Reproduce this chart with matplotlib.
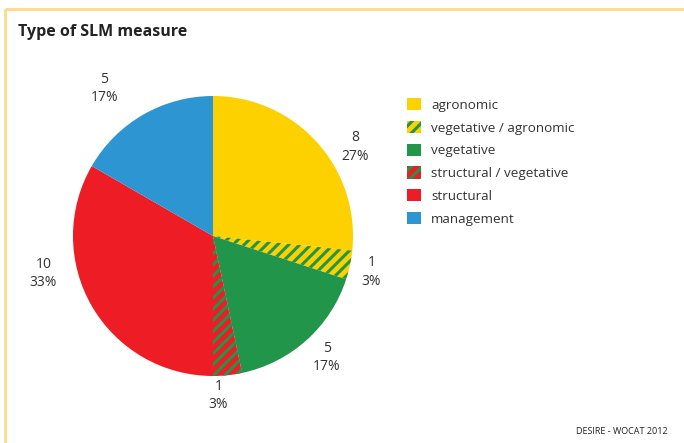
import matplotlib.pyplot as plt
import numpy as np

plt.rcParams['font.family'] = ['Open Sans', 'DejaVu Sans']
plt.rcParams['hatch.linewidth'] = 2.2

categories = ['agronomic', 'vegetative / agronomic', 'vegetative',
              'structural / vegetative', 'structural', 'management']
counts = [8, 1, 5, 1, 10, 5]
percents = [27, 3, 17, 3, 33, 17]

yellow = '#FDD000'
green = '#21954A'
red = '#EE1C25'
blue = '#2E95D3'
face = [yellow, yellow, green, red, red, blue]
hatch_col = [None, green, None, green, None, None]

# where each value label sits: angle (deg) and distance in pie radii
label_ang = [32, -12.8, -47, -88, -167.6, 126.4]
label_dist = [1.20, 1.16, 1.19, 1.14, 1.24, 1.31]

fig = plt.figure(figsize=(6.84, 4.43), dpi=100)
ax = fig.add_axes([0, 0, 1, 1])

cx, cy, r = 213, 443 - 236, 140
wedges, _ = ax.pie(counts, center=(cx, cy), radius=r, startangle=90,
                   counterclock=False, colors=face, frame=True,
                   wedgeprops=dict(linewidth=0))
ax.set_xlim(0, 684)
ax.set_ylim(0, 443)
ax.axis('off')
for w, hc in zip(wedges, hatch_col):
    if hc is not None:
        w.set_hatch('///')
        w.set_edgecolor(hc)
        w.set_linewidth(0)

for n, p, a, d in zip(counts, percents, label_ang, label_dist):
    x = cx + d * r * np.cos(np.radians(a))
    y = cy + d * r * np.sin(np.radians(a))
    ax.text(x, y, f'{n}\n{p}%', ha='center', va='center', fontsize=10,
            color='#333333', linespacing=1.3)

fig.legend(wedges, categories, loc='upper left', bbox_to_anchor=(0.578, 0.806),
           frameon=False, fontsize=9.7, handlelength=1.0, handleheight=1.0,
           handletextpad=0.75, labelspacing=0.68, labelcolor='#333333')

# light yellow frame on top and left
ax.plot([5, 684], [434, 434], color='#FDD98A', lw=2.0, solid_capstyle='butt')
ax.plot([5, 5], [434, 0], color='#FDD98A', lw=2.0, solid_capstyle='butt')

fig.text(18 / 684, 1 - 32 / 443, 'Type of SLM measure', fontsize=11.5,
         fontweight='bold', color='#222222', va='center', ha='left')
fig.text(668 / 684, 1 - 432 / 443, 'DESIRE - WOCAT 2012', fontsize=6.5,
         color='#222222', va='center', ha='right')

fig.savefig('out.png', dpi=100)
